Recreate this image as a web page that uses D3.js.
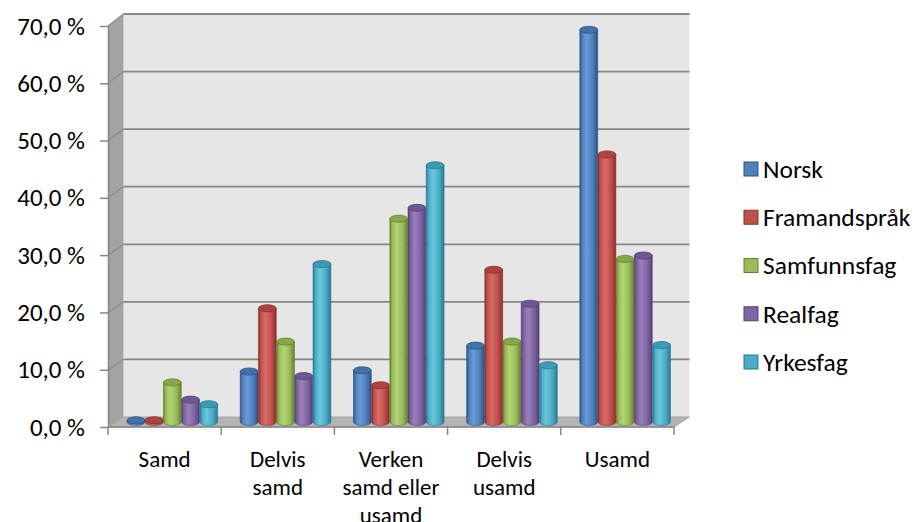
<!DOCTYPE html>
<html>
<head>
<meta charset="utf-8">
<script src="https://cdn.jsdelivr.net/npm/d3@7"></script>
<style>
  body { margin: 0; background: #ffffff; }
  svg { display: block; }
  text { font-family: Carlito, Calibri, Lato, sans-serif; fill: #000000; font-weight: 400; }
</style>
</head>
<body>
<svg id="chart" width="921" height="522"></svg>
<script>
// Answer categories along the x axis ("\n" marks a line break)
const categories = ["Samd", "Delvis\nsamd", "Verken\nsamd eller\nusamd", "Delvis\nusamd", "Usamd"];

// Subjects (series)
const seriesNames = ["Norsk", "Framandspråk", "Samfunnsfag", "Realfag", "Yrkesfag"];

// Share of answers per category, in percent
const norsk        = [0.3, 8.8, 9.0, 13.3, 68.3];
const framandsprak = [0.3, 19.8, 6.4, 26.5, 46.6];
const samfunnsfag  = [6.9, 14.0, 35.4, 14.0, 28.4];
const realfag      = [3.9, 8.0, 37.3, 20.6, 29.0];
const yrkesfag     = [3.1, 27.5, 44.7, 9.9, 13.4];

// Value axis ticks
const yTicks = [0, 10, 20, 30, 40, 50, 60, 70];

// Series colours: base, dark edge, light highlight
const baseColors  = ["#4f81bd", "#c0504d", "#9bbb59", "#8064a2", "#4bacc6"];
const darkColors  = ["#2c5282", "#8a2f2c", "#66802f", "#553f75", "#267a91"];
const lightColors = ["#6a9ad6", "#d96b67", "#b3d475", "#9a7fbd", "#6cc6de"];

const seriesValues = [norsk, framandsprak, samfunnsfag, realfag, yrkesfag];

const svg = d3.select("#chart");

// ---- Geometry of the 3D box ----
const X0 = 108, X1 = 674;     // front edge of the floor
const DX = 15.5;              // horizontal shift from front to back wall
const yFront = d3.scaleLinear().domain([0, 70]).range([427, 26]);
const yBack  = d3.scaleLinear().domain([0, 70]).range([417, 14]);
// value -> y at depth t (0 = front plane, 1 = back wall)
const yAt = (v, t) => yFront(v) * (1 - t) + yBack(v) * t;

const x = d3.scaleBand().domain(categories).range([X0, X1]).paddingInner(0).paddingOuter(0);
const xs = d3.scaleBand().domain(seriesNames).range([0, x.bandwidth()])
  .paddingInner(0.02).paddingOuter(0.62);

const gridColor = "#868686";

// ---- Back wall ----
svg.append("rect")
  .attr("x", X0 + DX).attr("y", yBack(70))
  .attr("width", X1 - X0).attr("height", yBack(0) - yBack(70))
  .attr("fill", "#e6e6e6");

// ---- Side wall ----
svg.append("path")
  .attr("d", `M${X0},${yFront(70)} L${X0 + DX},${yBack(70)} L${X0 + DX},${yBack(0)} L${X0},${yFront(0)} Z`)
  .attr("fill", "#a3a3a3");

// ---- Gridlines on back and side walls ----
const grid = svg.append("g");
grid.selectAll("line.back").data(yTicks.filter(d => d > 0)).join("line")
  .attr("class", "back")
  .attr("x1", X0 + DX).attr("x2", X1 + DX)
  .attr("y1", d => yBack(d)).attr("y2", d => yBack(d))
  .attr("stroke", gridColor).attr("stroke-width", 1.8);
grid.selectAll("line.side").data(yTicks.filter(d => d > 0)).join("line")
  .attr("class", "side")
  .attr("x1", X0).attr("x2", X0 + DX)
  .attr("y1", d => yFront(d)).attr("y2", d => yBack(d))
  .attr("stroke", "#8a8a8a").attr("stroke-width", 1.2);

// ---- Floor ----
svg.append("path")
  .attr("d", `M${X0},${yFront(0)} L${X1},${yFront(0)} L${X1 + DX},${yBack(0)} L${X0 + DX},${yBack(0)} Z`)
  .attr("fill", "#b4b4b4")
  .attr("stroke", "#9a9a9a").attr("stroke-width", 0.8);

// ---- Cylinder gradients ----
const defs = svg.append("defs");
seriesNames.forEach((s, i) => {
  const g = defs.append("linearGradient").attr("id", "cyl" + i)
    .attr("x1", 0).attr("x2", 1).attr("y1", 0).attr("y2", 0);
  [[0, darkColors[i]], [0.14, baseColors[i]], [0.38, lightColors[i]],
   [0.72, baseColors[i]], [1, darkColors[i]]].forEach(([o, c]) =>
    g.append("stop").attr("offset", o).attr("stop-color", c));
});

// ---- Bars (cylinders at mid depth) ----
const depth = 0.5;
const bw = xs.bandwidth();
const rx = bw / 2, ry = 3.5;
const bars = [];
categories.forEach((c, ci) => {
  seriesNames.forEach((s, si) => {
    bars.push({ c, s, si, v: seriesValues[si][ci] });
  });
});

const barG = svg.append("g");
const bar = barG.selectAll("g.bar").data(bars).join("g").attr("class", "bar");
bar.each(function (d) {
  const g = d3.select(this);
  const cx = x(d.c) + xs(d.s) + bw / 2 + DX * depth;
  const yb = yAt(0, depth);
  const yt = yAt(d.v, depth);
  const l = cx - rx, r = cx + rx;
  g.append("path")
    .attr("d", `M${l},${yt} L${l},${yb} A${rx},${ry} 0 0 0 ${r},${yb} L${r},${yt} Z`)
    .attr("fill", `url(#cyl${d.si})`)
    .attr("stroke", darkColors[d.si]).attr("stroke-width", 0.6);
  g.append("ellipse")
    .attr("cx", cx).attr("cy", yt).attr("rx", rx).attr("ry", ry)
    .attr("fill", d3.interpolateRgb(baseColors[d.si], darkColors[d.si])(0.35))
    .attr("stroke", darkColors[d.si]).attr("stroke-width", 0.8);
});

// ---- Value axis ----
const locale = d3.formatLocale({ decimal: ",", thousands: " ", grouping: [3], currency: ["", ""] });
const fmt = locale.format(".1f");
const yAxis = d3.axisLeft(yFront).tickValues(yTicks)
  .tickFormat(d => fmt(d) + "\u00a0%")
  .tickSize(8).tickSizeOuter(0).tickPadding(15);
const yg = svg.append("g").attr("transform", `translate(${X0},0)`).call(yAxis);
yg.select(".domain").attr("stroke", gridColor).attr("stroke-width", 1.5);
yg.selectAll(".tick line").attr("stroke", gridColor).attr("stroke-width", 1.5);
yg.selectAll(".tick text").attr("font-size", 25)
  .style("font-family", "Carlito, Calibri, Lato, sans-serif").attr("fill", "#000");

// ---- Category axis ----
const xAxisG = svg.append("g");
xAxisG.append("line")
  .attr("x1", X0).attr("x2", X1).attr("y1", yFront(0)).attr("y2", yFront(0))
  .attr("stroke", gridColor).attr("stroke-width", 1.5);
const edges = categories.map(c => x(c)).concat([x(categories[categories.length - 1]) + x.bandwidth()]);
xAxisG.selectAll("line.tick").data(edges).join("line")
  .attr("class", "tick")
  .attr("x1", d => d).attr("x2", d => d)
  .attr("y1", yFront(0)).attr("y2", yFront(0) + 8)
  .attr("stroke", gridColor).attr("stroke-width", 1.5);
const labels = xAxisG.selectAll("text.cat").data(categories).join("text")
  .attr("class", "cat")
  .attr("text-anchor", "middle")
  .attr("font-size", 23);
labels.each(function (c) {
  const t = d3.select(this);
  c.split("\n").forEach((line, i) => {
    t.append("tspan")
      .attr("x", x(c) + x.bandwidth() / 2)
      .attr("y", 467 + i * 28)
      .text(line);
  });
});

// ---- Legend ----
const ly = d3.scalePoint().domain(seriesNames).range([169, 362]);
const legend = svg.append("g");
const li = legend.selectAll("g").data(seriesNames).join("g")
  .attr("transform", d => `translate(744,${ly(d)})`);
li.append("rect")
  .attr("x", 0).attr("y", -7).attr("width", 14).attr("height", 14)
  .attr("fill", (d, i) => baseColors[i])
  .attr("stroke", (d, i) => darkColors[i]).attr("stroke-width", 1);
li.append("text")
  .attr("x", 19).attr("y", 0).attr("dy", "0.35em")
  .attr("font-size", 25.5)
  .text(d => d);
</script>
</body>
</html>
